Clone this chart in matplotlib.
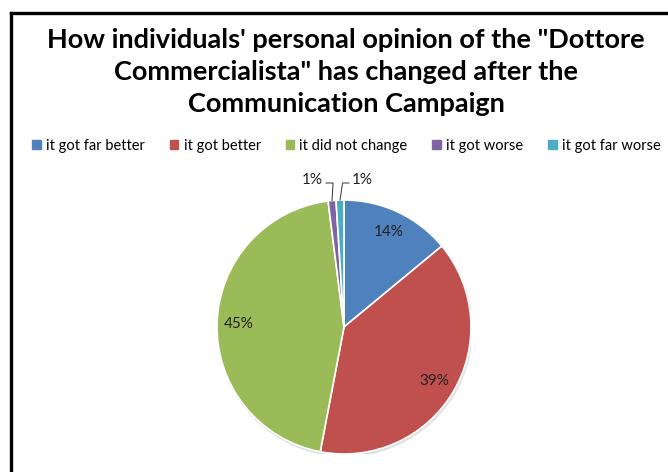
import matplotlib
matplotlib.use('Agg')
import matplotlib.pyplot as plt
from matplotlib.patches import Circle
from matplotlib.lines import Line2D
import numpy as np

# survey answers
labels = ['it got far better', 'it got better', 'it did not change',
          'it got worse', 'it got far worse']
shares = [14, 39, 45, 1, 1]
colors = ['#4F81BD', '#C0504D', '#9BBB59', '#8064A2', '#4BACC6']
title = ('How individuals\' personal opinion of the "Dottore\n'
         'Commercialista" has changed after the\n'
         'Communication Campaign')

plt.rcParams['font.family'] = ['Lato', 'DejaVu Sans']

W, H = 668, 472
fig = plt.figure(figsize=(W / 100, H / 100), dpi=100)

# frame of the chart area (only left and top edges fall inside the image)
fig.add_artist(Line2D([10.5 / W, 10.5 / W], [0, 1 - 12.5 / H],
                      transform=fig.transFigure, color='black', lw=2.4))
fig.add_artist(Line2D([10.5 / W, 1], [1 - 12.5 / H, 1 - 12.5 / H],
                      transform=fig.transFigure, color='black', lw=2.4))

fig.text(346 / W, 1 - 72 / H, title, ha='center', va='center',
         fontsize=19.5, fontweight='bold', linespacing=1.4)

# pie axes: centre (344, 327), radius 127 px
cx, cy, r = 344, 327, 127
ax = fig.add_axes([(cx - r) / W, (H - cy - r) / H, 2 * r / W, 2 * r / H])
ax.axis('off')

ax.add_patch(Circle((0.008, -0.016), 1.006, color='#9a9a9a', alpha=0.3,
                    zorder=0, lw=0))
wedges, _ = ax.pie(shares, colors=colors, startangle=90, counterclock=False,
                   radius=1, wedgeprops=dict(edgecolor='white', linewidth=1.2),
                   center=(0, 0), frame=False)
ax.set_xlim(-1, 1)
ax.set_ylim(-1, 1)
ax.set_aspect('equal')

for w, v in zip(wedges, shares):
    mid = np.deg2rad((w.theta1 + w.theta2) / 2)
    if v >= 5:
        ax.text(0.83 * np.cos(mid), 0.83 * np.sin(mid), f'{v}%',
                ha='center', va='center', fontsize=11, color='#222222')

# small slices get outside labels with leader lines
small = [(3, -0.165, 'right'), (4, 0.063, 'left')]
ty, ly = 1.157, 1.134
for i, tx, side in small:
    w = wedges[i]
    mid = np.deg2rad((w.theta1 + w.theta2) / 2)
    ex, ey = np.cos(mid), np.sin(mid)
    if side == 'right':
        xs = [tx + 0.023, ex + 0.008, ex]
    else:
        xs = [tx - 0.024, ex + 0.02, ex]
    ax.plot(xs, [ly, ly, ey], color='#333333', lw=0.7, clip_on=False)
    ax.text(tx, ty, f'{shares[i]}%', ha=side, va='center', fontsize=11,
            color='#222222', clip_on=False)

handles = [plt.Rectangle((0, 0), 1, 1, color=c) for c in colors]
fig.legend(handles, labels, loc='center', bbox_to_anchor=(346.5 / W, 1 - 146 / H),
           ncol=5, frameon=False, fontsize=10.5, handlelength=0.6,
           handleheight=0.6, handletextpad=0.35, columnspacing=1.7,
           borderpad=0, borderaxespad=0)

fig.savefig('out.png', dpi=100)
